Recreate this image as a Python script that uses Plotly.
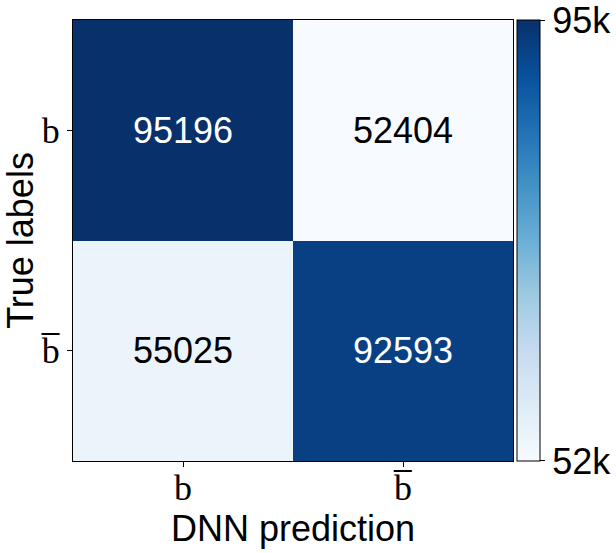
import plotly.graph_objects as go

pred_labels = ["b", "b\u0305"]
true_labels = ["b", "b\u0305"]
counts = [[95196, 52404],
          [55025, 92593]]
cbar_ticktext = ["52k", "95k"]

zmin = min(min(r) for r in counts)
zmax = max(max(r) for r in counts)
thresh = (zmin + zmax) / 2
eps = (zmax - zmin) * 1e-4

fig = go.Figure()
fig.add_trace(go.Heatmap(
    z=counts,
    x=[0, 1],
    y=[0, 1],
    colorscale="Blues",
    zmin=zmin, zmax=zmax,
    xgap=0, ygap=0,
    hoverinfo="skip",
    colorbar=dict(
        x=1.009, xanchor="left", xref="paper",
        y=0.5, yanchor="middle", len=1, lenmode="fraction",
        thickness=23, thicknessmode="pixels",
        xpad=0, ypad=0,
        outlinewidth=1, outlinecolor="black",
        tickmode="array",
        tickvals=[zmin + eps, zmax - eps], ticktext=cbar_ticktext,
        ticks="outside", ticklen=5, tickcolor="black", tickwidth=1,
        ticklabeloverflow="allow",
        tickfont=dict(family="Liberation Sans, Arial, sans-serif", size=36, color="black"),
    ),
))

for i, row in enumerate(counts):
    for j, v in enumerate(row):
        fig.add_annotation(
            x=j, y=i, text=str(v), showarrow=False,
            font=dict(family="Liberation Sans, Arial, sans-serif", size=36,
                      color="white" if v > thresh else "black"),
        )

fig.update_layout(
    width=616, height=553,
    margin=dict(l=73, r=103, t=20, b=92, autoexpand=False),
    paper_bgcolor="white", plot_bgcolor="white",
    xaxis=dict(
        automargin=False,
        tickvals=[0, 1], ticktext=pred_labels, range=[-0.5, 1.5],
        ticks="outside", ticklen=5, tickcolor="black",
        ticklabelstandoff=-10,
        showline=True, linecolor="black", linewidth=1, mirror=True,
        showgrid=False, zeroline=False,
        tickfont=dict(family="Liberation Serif, DejaVu Serif, serif", size=36, color="black"),
        title=dict(text="DNN prediction", standoff=0,
                   font=dict(family="Liberation Sans, Arial, sans-serif", size=36, color="black")),
    ),
    yaxis=dict(
        automargin=False,
        tickvals=[0, 1], ticktext=true_labels, range=[1.5, -0.5],
        ticks="outside", ticklen=5, tickcolor="black",
        showline=True, linecolor="black", linewidth=1, mirror=True,
        showgrid=False, zeroline=False,
        tickfont=dict(family="Liberation Serif, DejaVu Serif, serif", size=36, color="black"),
        title=dict(text="True labels", standoff=0,
                   font=dict(family="Liberation Sans, Arial, sans-serif", size=36, color="black")),
    ),
)

fig.write_html("out.html", config={"displayModeBar": False},
               post_script="document.body.style.margin='0';")
